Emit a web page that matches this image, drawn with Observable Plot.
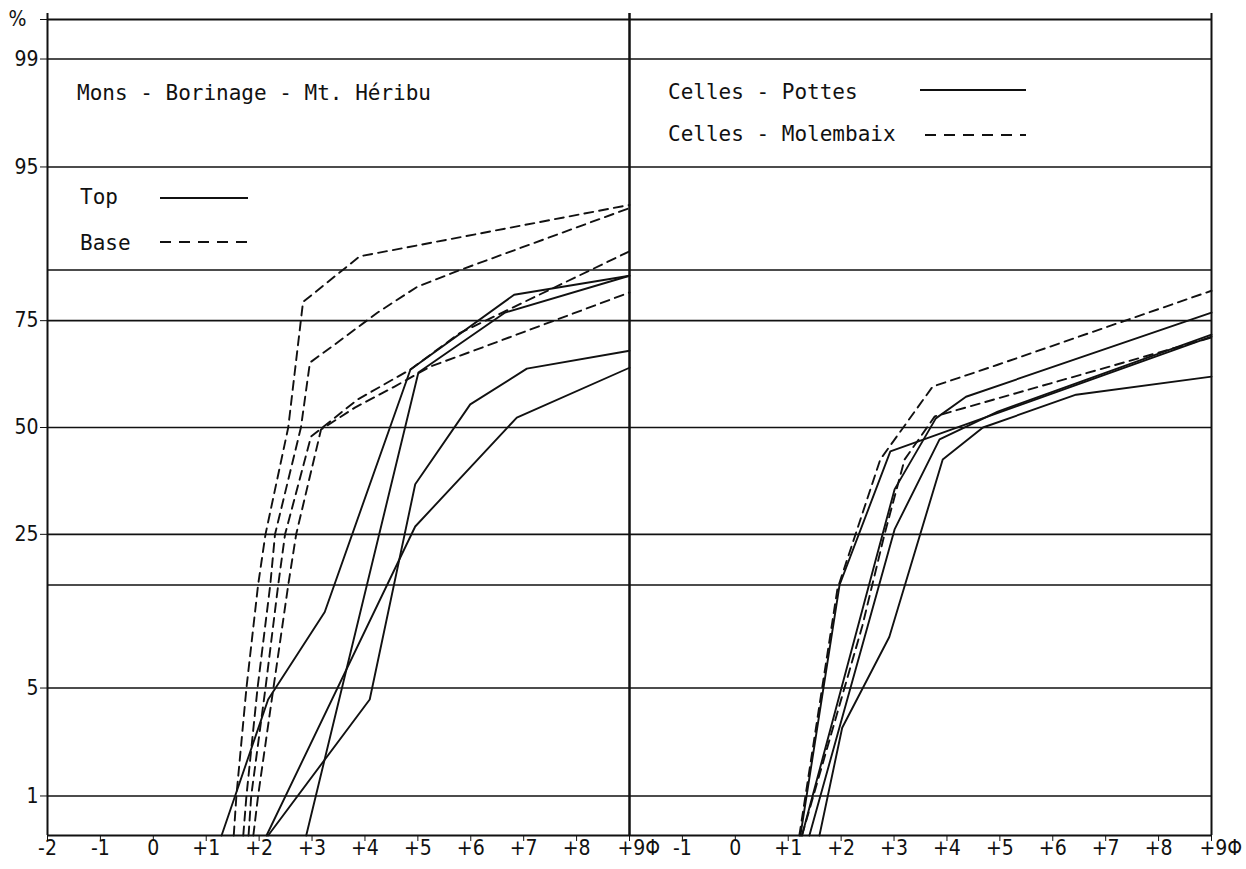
<!DOCTYPE html>
<html>
<head>
<meta charset="utf-8">
<script src="https://cdn.jsdelivr.net/npm/d3@7"></script>
<script src="https://cdn.jsdelivr.net/npm/@observablehq/plot@0.6"></script>
<style>
  body { margin: 0; background: #fff; }
  #wrap { position: relative; width: 1246px; height: 869px; }
  #overlay { position: absolute; left: 0; top: 0; pointer-events: none; }
  #overlay text { font-family: "DejaVu Sans Mono", "Liberation Mono", monospace; font-size: 21px; fill: #111; }
</style>
</head>
<body>
<div id="wrap"></div>
<script>
// ---------- axis definitions ----------
const phiTicks = [-2, -1, 0, 1, 2, 3, 4, 5, 6, 7, 8, 9];
const monsPhiLabels   = ["-2", "-1", "0", "+1", "+2", "+3", "+4", "+5", "+6", "+7", "+8", "+9Φ"];
const cellesPhiLabels = ["",   "-1", "0", "+1", "+2", "+3", "+4", "+5", "+6", "+7", "+8", "+9Φ"];
const pctGrid   = [1, 5, 16, 25, 50, 75, 84, 95, 99];
const pctTicks  = [1, 5, 25, 50, 75, 95, 99, 99.5];
const pctLabels = ["1", "5", "25", "50", "75", "95", "99", "%\u00a0\u00a0"];
const pctDomain = [0.5, 99.5];

// ---------- data: [phi, cumulative %] ----------
// Mons - Borinage - Mt. Héribu : Top (solid)
const monsTop1 = [[1.29, 0.5], [2.17, 4.3], [3.24, 12.2], [4.86, 64.3], [6.82, 79.9], [9, 83.1]];
const monsTop2 = [[2.89, 0.5], [5.01, 63.6], [6.65, 76.6], [9, 83.1]];
const monsTop3 = [[2.17, 0.5], [4.09, 4.3], [4.95, 36], [5.99, 55.8], [7.06, 64.5], [9, 68.6]];
const monsTop4 = [[2.14, 0.5], [4.95, 26.6], [6.87, 52.5], [9, 64.7]];
// Mons - Borinage - Mt. Héribu : Base (dashed)
const monsBase1 = [[1.52, 0.5], [1.57, 1], [1.76, 5], [1.98, 16], [2.12, 25], [2.55, 50], [2.83, 78.6], [3.90, 86], [9, 92]];
const monsBase2 = [[1.70, 0.5], [1.76, 1], [1.97, 5], [2.21, 16], [2.30, 25], [2.79, 50], [2.96, 65.9], [3.43, 70], [4.24, 76.6], [4.99, 81.3], [5.80, 84], [9, 91.7]];
const monsBase3 = [[1.80, 0.5], [1.85, 1], [2.12, 5], [2.36, 16], [2.49, 25], [2.98, 47.7], [3.86, 57], [4.86, 64.3], [5.80, 72.5], [9, 86.7]];
const monsBase4 = [[1.89, 0.5], [1.98, 1], [2.27, 5], [2.55, 16], [2.70, 25], [3.17, 49.5], [3.81, 55], [4.56, 60.2], [5.24, 65], [6.12, 68.9], [9, 80.3]];
// Celles - Pottes (solid)
const pottes1 = [[1.23, 0.5], [1.97, 16], [2.93, 44], [9, 71.7]];
const pottes2 = [[1.26, 0.5], [3.01, 34.8], [3.79, 52.3], [4.36, 57.7], [9, 76.6]];
const pottes3 = [[1.40, 0.5], [3.01, 26], [3.86, 47], [4.96, 54], [9, 72.1]];
const pottes4 = [[1.59, 0.5], [2.02, 2.9], [2.91, 9.3], [3.92, 42], [4.68, 50], [6.44, 58.2], [9, 62.6]];
// Celles - Molembaix (dashed)
const molembaix1 = [[1.21, 0.5], [1.93, 15.4], [2.74, 42], [3.73, 60.2], [4.96, 65.4], [9, 80.6]];
const molembaix2 = [[1.26, 0.5], [2.40, 10.5], [2.82, 25], [3.20, 42], [3.77, 52.8], [9, 71.5]];

// ---------- probability (probit) transform ----------
function probit(p) {
  const a = [-3.969683028665376e+01, 2.209460984245205e+02, -2.759285104469687e+02, 1.383577518672690e+02, -3.066479806614716e+01, 2.506628277459239e+00];
  const b = [-5.447609879822406e+01, 1.615858368580409e+02, -1.556989798598866e+02, 6.680131188771972e+01, -1.328068155288572e+01];
  const c = [-7.784894002430293e-03, -3.223964580411365e-01, -2.400758277161838e+00, -2.549732539343734e+00, 4.374664141464968e+00, 2.938163982698783e+00];
  const d = [7.784695709041462e-03, 3.224671290700398e-01, 2.445134137142996e+00, 3.754408661907416e+00];
  const pl = 0.02425, ph = 1 - pl;
  let q, r;
  if (p < pl) {
    q = Math.sqrt(-2 * Math.log(p));
    return (((((c[0]*q+c[1])*q+c[2])*q+c[3])*q+c[4])*q+c[5]) / ((((d[0]*q+d[1])*q+d[2])*q+d[3])*q+1);
  }
  if (p <= ph) {
    q = p - 0.5; r = q * q;
    return (((((a[0]*r+a[1])*r+a[2])*r+a[3])*r+a[4])*r+a[5])*q / (((((b[0]*r+b[1])*r+b[2])*r+b[3])*r+b[4])*r+1);
  }
  q = Math.sqrt(-2 * Math.log(1 - p));
  return -(((((c[0]*q+c[1])*q+c[2])*q+c[3])*q+c[4])*q+c[5]) / ((((d[0]*q+d[1])*q+d[2])*q+d[3])*q+1);
}
const Z = pct => probit(pct / 100);

// ---------- build tables ----------
const rows = [];
function add(panel, dashed, id, pts) {
  for (const [phi, pct] of pts) rows.push({panel, dashed, id, phi, z: Z(pct)});
}
add("mons", false, "t1", monsTop1); add("mons", false, "t2", monsTop2);
add("mons", false, "t3", monsTop3); add("mons", false, "t4", monsTop4);
add("mons", true, "b1", monsBase1); add("mons", true, "b2", monsBase2);
add("mons", true, "b3", monsBase3); add("mons", true, "b4", monsBase4);
add("celles", false, "p1", pottes1); add("celles", false, "p2", pottes2);
add("celles", false, "p3", pottes3); add("celles", false, "p4", pottes4);
add("celles", true, "m1", molembaix1); add("celles", true, "m2", molembaix2);

const labelRows = [];
phiTicks.forEach((t, i) => {
  labelRows.push({panel: "mons", phi: t, label: monsPhiLabels[i]});
  labelRows.push({panel: "celles", phi: t, label: cellesPhiLabels[i]});
});
const plainLabels = labelRows.filter(d => d.label && !d.label.includes("Φ"));
const phiLabels = labelRows.filter(d => d.label.includes("Φ"));

const yTickZ = pctTicks.map(Z);
const yFormat = z => {
  const i = yTickZ.findIndex(v => Math.abs(v - z) < 1e-9);
  return i >= 0 ? pctLabels[i] : "";
};
const zDomain = pctDomain.map(Z);

const chart = Plot.plot({
  width: 1246,
  height: 869,
  marginTop: 19,
  marginBottom: 34,
  marginLeft: 47,
  marginRight: 35,
  style: {
    fontFamily: "'DejaVu Sans Condensed', 'Liberation Sans Narrow', 'DejaVu Sans', sans-serif",
    fontSize: "21px",
    color: "#111",
    background: "#fff"
  },
  fx: {domain: ["mons", "celles"], axis: null, padding: 0},
  x: {domain: [-2, 9], ticks: phiTicks, tickFormat: () => "", tickSize: 6, label: null},
  y: {domain: zDomain, ticks: yTickZ, tickFormat: yFormat, tickSize: 7, tickPadding: 2, label: null},
  marks: [
    Plot.ruleY(pctGrid.map(Z), {stroke: "#111", strokeWidth: 1.6}),
    Plot.ruleY(zDomain, {stroke: "#111", strokeWidth: 1.8}),
    Plot.ruleX([-2, 9], {stroke: "#111", strokeWidth: 2, insetTop: -6}),
    Plot.line(rows.filter(d => !d.dashed), {fx: "panel", x: "phi", y: "z", z: "id", stroke: "#111", strokeWidth: 1.9}),
    Plot.line(rows.filter(d => d.dashed), {fx: "panel", x: "phi", y: "z", z: "id", stroke: "#111", strokeWidth: 1.9, strokeDasharray: "9,6"}),
    Plot.text(plainLabels, {fx: "panel", x: "phi", text: "label", frameAnchor: "bottom", dy: 19, fill: "#111"}),
    Plot.text(phiLabels, {fx: "panel", x: "phi", text: "label", frameAnchor: "bottom", dy: 19, dx: -12, textAnchor: "start", fill: "#111"})
  ]
});

const wrap = document.getElementById("wrap");
wrap.appendChild(chart);

// ---------- legends / panel titles (overlay) ----------
const legendItems = [
  {text: "Mons - Borinage - Mt. Héribu", tx: 77, ty: 100},
  {text: "Top", tx: 80, ty: 204, x1: 160, x2: 248, ly: 198, dashed: false},
  {text: "Base", tx: 80, ty: 250, x1: 160, x2: 252, ly: 242, dashed: true},
  {text: "Celles - Pottes", tx: 668, ty: 99, x1: 920, x2: 1026, ly: 90, dashed: false},
  {text: "Celles - Molembaix", tx: 668, ty: 141, x1: 925, x2: 1026, ly: 135, dashed: true}
];
const ns = "http://www.w3.org/2000/svg";
const ov = document.createElementNS(ns, "svg");
ov.setAttribute("id", "overlay");
ov.setAttribute("width", 1246);
ov.setAttribute("height", 869);
for (const it of legendItems) {
  const t = document.createElementNS(ns, "text");
  t.setAttribute("x", it.tx);
  t.setAttribute("y", it.ty);
  t.textContent = it.text;
  ov.appendChild(t);
  if (it.x1 != null) {
    const l = document.createElementNS(ns, "line");
    l.setAttribute("x1", it.x1); l.setAttribute("x2", it.x2);
    l.setAttribute("y1", it.ly); l.setAttribute("y2", it.ly);
    l.setAttribute("stroke", "#111");
    l.setAttribute("stroke-width", 2);
    if (it.dashed) l.setAttribute("stroke-dasharray", "11,8");
    ov.appendChild(l);
  }
}
wrap.appendChild(ov);
</script>
</body>
</html>
